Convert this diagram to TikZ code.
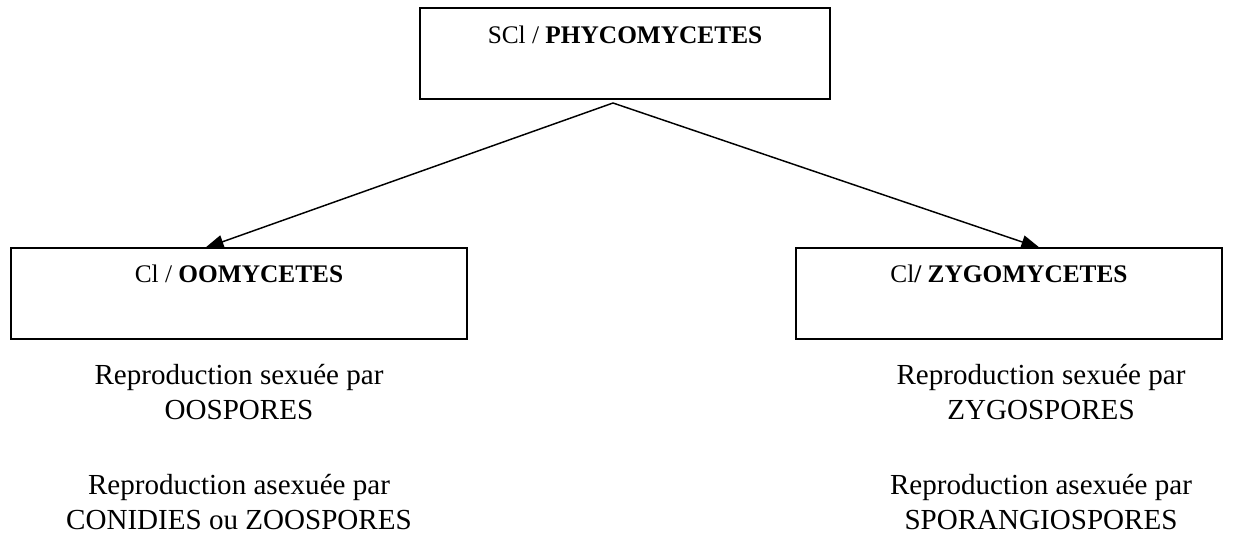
\documentclass[tikz,border=0pt]{standalone}
\usepackage{fontspec}
\setmainfont{Liberation Serif}
\usetikzlibrary{arrows.meta}
\begin{document}
\begin{tikzpicture}[x=0.75pt,y=-0.75pt,
  box/.style={draw,line width=1.1pt,rectangle,inner sep=0pt},
  title/.style={font=\fontsize{19}{22}\selectfont,inner sep=0pt,anchor=base},
  body/.style={font=\fontsize{21.8}{32}\selectfont,align=center,inner sep=0pt,anchor=base},
  arr/.style={line width=1.1pt,-{Triangle[length=14pt,width=10pt]}}]
\useasboundingbox (0,0) rectangle (1260,546);
% boxes
\node[box,minimum width=410*0.75pt,minimum height=91*0.75pt] (top) at (625,53.5) {};
\node[box,minimum width=456*0.75pt,minimum height=91*0.75pt] (left) at (239,293.5) {};
\node[box,minimum width=426*0.75pt,minimum height=91*0.75pt] (right) at (1009,293.5) {};
% titles
\node[title] (ttop) at (625,43) {SCl / \textbf{PHYCOMYCETES}};
\node[title] (tleft) at (239,282) {Cl / \textbf{OOMYCETES}};
\node[title] (tright) at (1009,282) {Cl\textbf{/ ZYGOMYCETES}};
% arrows
\coordinate (apex) at (613,103);
\coordinate (lt) at (205,248);
\coordinate (rt) at (1040,248);
\draw[arr] (apex) -- (lt);
\draw[arr] (apex) -- (rt);
% body texts
\node[body] (l1) at (239,384) {Reproduction sexuée par};
\node[body] (l2) at (239,419) {OOSPORES};
\node[body] (l3) at (239,494) {Reproduction asexuée par};
\node[body] (l4) at (239,529) {CONIDIES ou ZOOSPORES};
\node[body] (r1) at (1041,384) {Reproduction sexuée par};
\node[body] (r2) at (1041,419) {ZYGOSPORES};
\node[body] (r3) at (1041,494) {Reproduction asexuée par};
\node[body] (r4) at (1041,529) {SPORANGIOSPORES};
\end{tikzpicture}
\end{document}
